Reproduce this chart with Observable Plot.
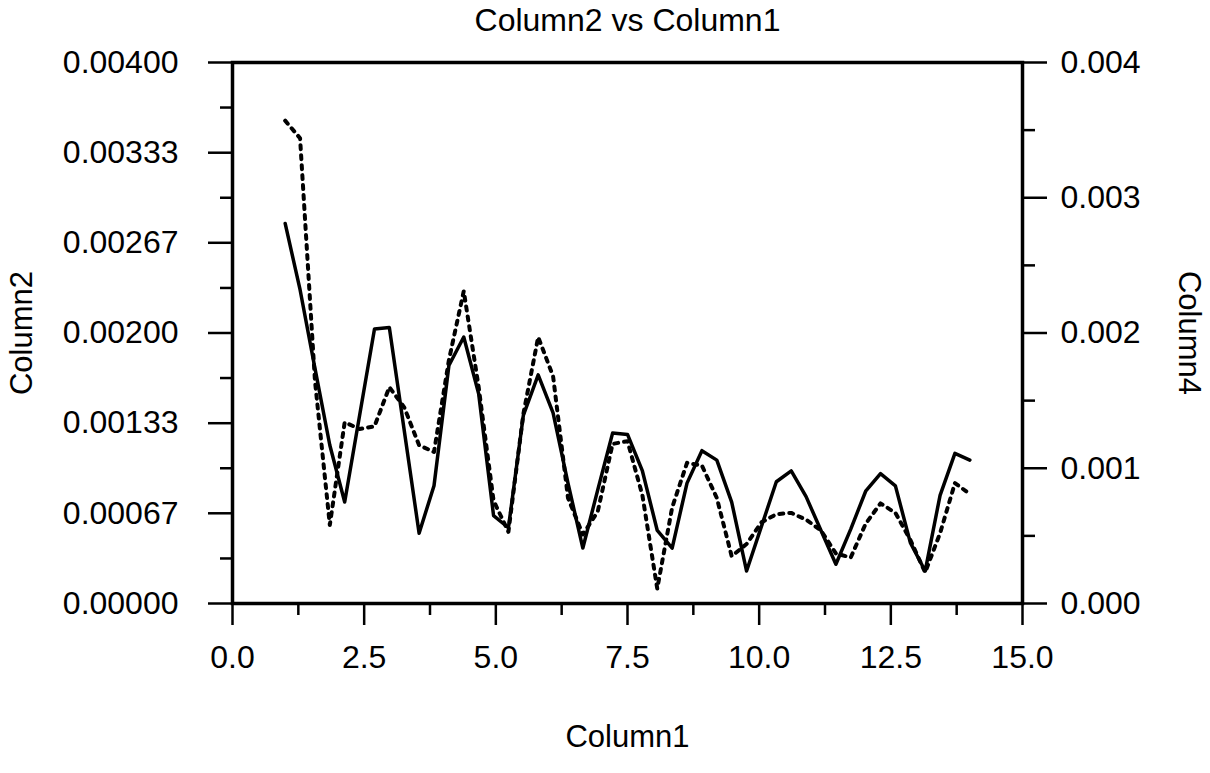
<!DOCTYPE html>
<html>
<head>
<meta charset="utf-8">
<script src="https://cdn.jsdelivr.net/npm/d3@7"></script>
<script src="https://cdn.jsdelivr.net/npm/@observablehq/plot@0.6"></script>
<style>
  html, body { margin: 0; padding: 0; background: #fff; }
  #chart svg { display: block; }
</style>
</head>
<body>
<div id="chart"></div>
<script>
// ---- data ----
const column1 = [1.000, 1.283, 1.565, 1.848, 2.130, 2.413, 2.696, 2.978, 3.261, 3.543,
  3.826, 4.109, 4.391, 4.674, 4.957, 5.239, 5.522, 5.804, 6.087, 6.370,
  6.652, 6.935, 7.217, 7.500, 7.783, 8.065, 8.348, 8.630, 8.913, 9.196,
  9.478, 9.761, 10.043, 10.326, 10.609, 10.891, 11.174, 11.457, 11.739, 12.022,
  12.304, 12.587, 12.870, 13.152, 13.435, 13.717, 14.000];
const column2 = [0.00281, 0.00232, 0.00174, 0.00117, 0.00075, 0.00139, 0.00203, 0.00204, 0.00128, 0.00052,
  0.00087, 0.00176, 0.00197, 0.00155, 0.00065, 0.00056, 0.00139, 0.00169, 0.00141, 0.00089,
  0.00041, 0.00084, 0.00126, 0.00125, 0.00098, 0.00054, 0.00041, 0.00089, 0.00113, 0.00106,
  0.00075, 0.00024, 0.00057, 0.00090, 0.00098, 0.00079, 0.00054, 0.00029, 0.00055, 0.00083,
  0.00096, 0.00087, 0.00045, 0.00024, 0.00080, 0.00111, 0.00106];
const column4 = [0.00357, 0.00344, 0.00165, 0.00058, 0.00134, 0.00129, 0.00131, 0.00160, 0.00145, 0.00117,
  0.00112, 0.00180, 0.00231, 0.00160, 0.00076, 0.00053, 0.00140, 0.00197, 0.00168, 0.00078,
  0.00051, 0.00068, 0.00118, 0.00120, 0.00080, 0.00011, 0.00071, 0.00104, 0.00102, 0.00078,
  0.00035, 0.00044, 0.00060, 0.00066, 0.00067, 0.00062, 0.00054, 0.00037, 0.00034, 0.00059,
  0.00074, 0.00067, 0.00047, 0.00023, 0.00052, 0.00089, 0.00081];

const xTicks = [0, 2.5, 5, 7.5, 10, 12.5, 15];
const xTickLabels = ["0.0", "2.5", "5.0", "7.5", "10.0", "12.5", "15.0"];
const xMinorTicks = [1.25, 3.75, 6.25, 8.75, 11.25, 13.75];
const leftTicks = [0, 0.000667, 0.001333, 0.002, 0.002667, 0.003333, 0.004];
const leftTickLabels = ["0.00000", "0.00067", "0.00133", "0.00200", "0.00267", "0.00333", "0.00400"];
const leftMinorTicks = [0.000333, 0.001, 0.001667, 0.002333, 0.003, 0.003667];
const rightTicks = [0, 0.001, 0.002, 0.003, 0.004];
const rightTickLabels = ["0.000", "0.001", "0.002", "0.003", "0.004"];
const rightMinorTicks = [0.0005, 0.0015, 0.0025, 0.0035];

const titleText = "Column2 vs Column1";
const xLabel = "Column1";
const yLeftLabel = "Column2";
const yRightLabel = "Column4";

const rows2 = column1.map((x, i) => ({x, y: column2[i]}));
const rows4 = column1.map((x, i) => ({x, y: column4[i]}));

const FONT = 32;
const LABEL_FONT = 31;
const lookup = (vals, labs) => d => labs[vals.findIndex(v => Math.abs(v - d) < 1e-9)];

const chart = Plot.plot({
  width: 1210,
  height: 773,
  marginLeft: 232,
  marginRight: 188,
  marginTop: 62,
  marginBottom: 170,
  style: {fontFamily: "'Liberation Sans', Arial, Helvetica, sans-serif", fontSize: FONT + "px", color: "black", background: "white"},
  x: {domain: [0, 15]},
  y: {domain: [0, 0.004]},
  marks: [
    Plot.axisX(xTicks, {anchor: "bottom", tickSize: 22, tickPadding: 20, strokeWidth: 2.5, fontSize: FONT, tickFormat: lookup(xTicks, xTickLabels), label: null}),
    Plot.axisX(xMinorTicks, {anchor: "bottom", tickSize: 12, strokeWidth: 2.5, tickFormat: () => "", label: null}),
    Plot.axisY(leftTicks, {anchor: "left", tickSize: 24, tickPadding: 30, strokeWidth: 2.5, fontSize: FONT, tickFormat: lookup(leftTicks, leftTickLabels), label: null}),
    Plot.axisY(leftMinorTicks, {anchor: "left", tickSize: 12, strokeWidth: 2.5, tickFormat: () => "", label: null}),
    Plot.axisY(rightTicks, {anchor: "right", tickSize: 24, tickPadding: 14, strokeWidth: 2.5, fontSize: FONT, tickFormat: lookup(rightTicks, rightTickLabels), label: null}),
    Plot.axisY(rightMinorTicks, {anchor: "right", tickSize: 12, strokeWidth: 2.5, tickFormat: () => "", label: null}),
    Plot.frame({stroke: "black", strokeWidth: 3.5}),
    Plot.line(rows4, {x: "x", y: "y", stroke: "black", strokeWidth: 4, strokeDasharray: "4 6"}),
    Plot.line(rows2, {x: "x", y: "y", stroke: "black", strokeWidth: 3.5}),
    Plot.text([titleText], {text: d => d, frameAnchor: "top", dy: -42, fontSize: 32, textAnchor: "middle", lineAnchor: "middle"}),
    Plot.text([xLabel], {text: d => d, frameAnchor: "bottom", dy: 134, fontSize: LABEL_FONT, textAnchor: "middle", lineAnchor: "middle"}),
    Plot.text([yLeftLabel], {text: d => d, frameAnchor: "left", dx: -210, rotate: -90, fontSize: LABEL_FONT, textAnchor: "middle", lineAnchor: "middle"}),
    Plot.text([yRightLabel], {text: d => d, frameAnchor: "right", dx: 166, rotate: 90, fontSize: LABEL_FONT, textAnchor: "middle", lineAnchor: "middle"})
  ]
});
document.getElementById("chart").appendChild(chart);
</script>
</body>
</html>
